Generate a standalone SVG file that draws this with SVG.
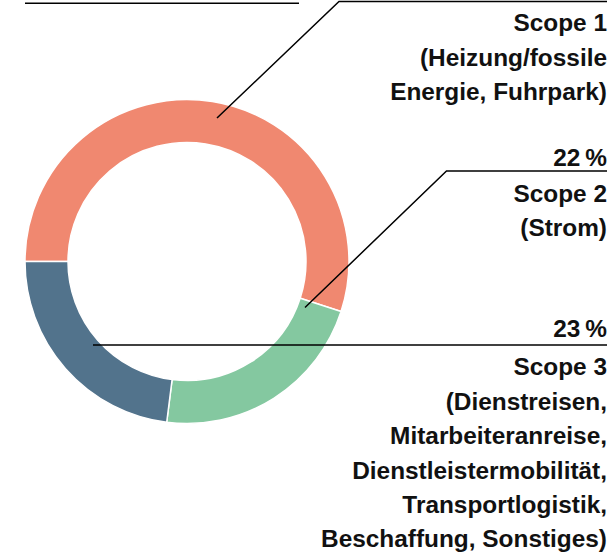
<svg xmlns="http://www.w3.org/2000/svg" width="614" height="556" viewBox="0 0 614 556">
<style>
.seg{stroke:#fff;stroke-width:1.5}
.lead{fill:none;stroke:#000;stroke-width:1.5}
.lbl{font-family:"Liberation Sans",Arial,sans-serif;font-weight:bold;font-size:24.4px;fill:#111;text-anchor:end}
</style>
<rect width="614" height="556" fill="#fff"/>
<g id="donut">
<g id="scope1-seg"><path class="seg" fill="#F08870" d="M25,261.5 A162,162 0 1 1 341.07,311.56 L300.18,298.27 A119,119 0 1 0 68,261.5 Z"/></g>
<g id="scope2-seg"><path class="seg" fill="#84C8A0" d="M341.07,311.56 A162,162 0 0 1 166.70,422.22 L172.09,379.56 A119,119 0 0 0 300.18,298.27 Z"/></g>
<g id="scope3-seg"><path class="seg" fill="#52738C" d="M166.70,422.22 A162,162 0 0 1 25,261.5 L68,261.5 A119,119 0 0 0 172.09,379.56 Z"/></g>
</g>
<g id="connectors">
<line class="lead" x1="25" y1="3.3" x2="299" y2="3.3"/>
<polyline class="lead" points="217,118 339,1.5 607,1.5"/>
<polyline class="lead" points="305,307.5 446.5,171 607,171"/>
<polyline class="lead" points="93,345 607,345"/>
</g>
<g id="label-scope1">
<text class="lbl" x="607" y="31">Scope 1</text>
<text class="lbl" x="607" y="65.5">(Heizung/fossile</text>
<text class="lbl" x="607" y="100">Energie, Fuhrpark)</text>
</g>
<g id="label-scope2">
<text class="lbl" x="607" y="166">22&#8201;%</text>
<text class="lbl" x="607" y="202">Scope 2</text>
<text class="lbl" x="607" y="236">(Strom)</text>
</g>
<g id="label-scope3">
<text class="lbl" x="607" y="337">23&#8201;%</text>
<text class="lbl" x="607" y="375">Scope 3</text>
<text class="lbl" x="607" y="409.5">(Dienstreisen,</text>
<text class="lbl" x="607" y="444">Mitarbeiteranreise,</text>
<text class="lbl" x="607" y="478.5">Dienstleistermobilität,</text>
<text class="lbl" x="607" y="513">Transportlogistik,</text>
<text class="lbl" x="607" y="547">Beschaffung, Sonstiges)</text>
</g>
</svg>
